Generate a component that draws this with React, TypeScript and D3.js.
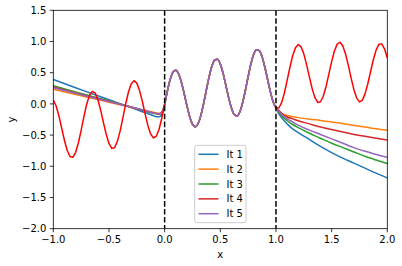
import React, { useEffect } from 'react';
import * as d3 from 'd3';

// ---- data ----
const X_DOMAIN = [-1, 2];
const Y_DOMAIN = [-2, 1.5];
const X_TICKS = [-1, -0.5, 0, 0.5, 1, 1.5, 2];
const Y_TICKS = [-2, -1.5, -1, -0.5, 0, 0.5, 1, 1.5];
const BOUNDARIES = [0, 1];

// reference solution sampled every 0.025 from x = -1 to x = 2
const SOLUTION_X0 = -1;
const SOLUTION_STEP = 0.025;
const SOLUTION_Y = [
  0.061, -0.030, -0.189, -0.386, -0.583, -0.746, -0.843, -0.856,
  -0.780, -0.627, -0.424, -0.204, -0.006, 0.138, 0.201, 0.177,
  0.070, -0.097, -0.295, -0.486, -0.634, -0.712, -0.703, -0.605,
  -0.437, -0.224, -0.001, 0.191, 0.323, 0.372, 0.333, 0.213,
  0.038, -0.163, -0.349, -0.485, -0.546, -0.518, -0.406, -0.226,
  -0.010,
  0.210, 0.393, 0.510, 0.541, 0.484, 0.351, 0.169,
  -0.028, -0.205, -0.325, -0.366, -0.318, -0.188, 0.004, 0.225,
  0.437, 0.606, 0.704, 0.714, 0.637, 0.489, 0.298, 0.101,
  -0.065, -0.171, -0.194, -0.129, 0.016, 0.215, 0.436, 0.641,
  0.795, 0.869, 0.855, 0.756, 0.591, 0.391, 0.192, 0.032,
  -0.061,
  -0.066, 0.017, 0.171, 0.372, 0.584, 0.771, 0.900,
  0.950, 0.915, 0.802, 0.630, 0.433, 0.245, 0.100, 0.024,
  0.034, 0.123, 0.280, 0.476, 0.677, 0.848, 0.958, 0.988,
  0.932, 0.800, 0.617, 0.414, 0.229, 0.093, 0.032, 0.056,
  0.160, 0.323, 0.519, 0.712, 0.866, 0.955, 0.962, 0.883,
  0.734,
];

// iterates outside [0, 1]
const LEFT_X = [-1, -0.8, -0.6, -0.4, -0.2, -0.1, -0.075, -0.05, -0.025, -0.0125];
const RIGHT_X = [1.02, 1.05, 1.1, 1.15, 1.2, 1.3, 1.4, 1.5, 1.6, 1.7, 1.8, 1.9, 2.0];

const IT1_LEFT = [0.39, 0.26, 0.13, 0.005, -0.125, -0.19, -0.205, -0.205, -0.17, -0.11];
const IT2_LEFT = [0.235, 0.15, 0.07, -0.015, -0.095, -0.135, -0.145, -0.15, -0.13, -0.085];
const IT3_LEFT = [0.29, 0.19, 0.095, 0.0, -0.1, -0.15, -0.16, -0.165, -0.14, -0.09];
const IT4_LEFT = [0.27, 0.175, 0.085, -0.005, -0.1, -0.145, -0.155, -0.16, -0.135, -0.09];
const IT5_LEFT = [0.26, 0.17, 0.08, -0.005, -0.095, -0.145, -0.155, -0.16, -0.135, -0.09];

const IT1_RIGHT = [-0.14, -0.22, -0.32, -0.40, -0.46, -0.57, -0.68, -0.78, -0.87, -0.95, -1.03, -1.11, -1.185];
const IT2_RIGHT = [-0.10, -0.15, -0.185, -0.205, -0.22, -0.245, -0.265, -0.29, -0.315, -0.345, -0.37, -0.40, -0.424];
const IT3_RIGHT = [-0.12, -0.19, -0.27, -0.33, -0.38, -0.47, -0.55, -0.63, -0.70, -0.77, -0.84, -0.90, -0.956];
const IT4_RIGHT = [-0.10, -0.15, -0.21, -0.24, -0.27, -0.32, -0.37, -0.41, -0.45, -0.49, -0.52, -0.55, -0.578];
const IT5_RIGHT = [-0.11, -0.17, -0.24, -0.29, -0.34, -0.42, -0.49, -0.56, -0.63, -0.70, -0.76, -0.81, -0.855];

const SERIES_NAMES = ['It 1', 'It 2', 'It 3', 'It 4', 'It 5'];
const SERIES_LEFT = [IT1_LEFT, IT2_LEFT, IT3_LEFT, IT4_LEFT, IT5_LEFT];
const SERIES_RIGHT = [IT1_RIGHT, IT2_RIGHT, IT3_RIGHT, IT4_RIGHT, IT5_RIGHT];
const COLORS = ['#1f77b4', '#ff7f0e', '#2ca02c', '#d62728', '#9467bd'];

// ---- layout ----
const W = 402;
const H = 266;
const PL = 53.3, PR = 387.3, PT = 10.3, PB = 228.7;
const FONT = 'DejaVu Sans, sans-serif';

type Pt = [number, number];

export default function App() {
  useEffect(() => {
    document.body.style.margin = '0';
  }, []);

  const x = d3.scaleLinear().domain(X_DOMAIN).range([PL, PR]);
  const y = d3.scaleLinear().domain(Y_DOMAIN).range([PB, PT]);

  const solPts: Pt[] = SOLUTION_Y.map((v, i) => [SOLUTION_X0 + i * SOLUTION_STEP, v]);
  const idxAt = (xv: number) => Math.round((xv - SOLUTION_X0) / SOLUTION_STEP);
  const i0 = idxAt(BOUNDARIES[0]);
  const i1 = idxAt(BOUNDARIES[1]);
  const solLeft = solPts.slice(0, i0 + 1);
  const solMid = solPts.slice(i0, i1 + 1);
  const solRight = solPts.slice(i1);

  const lineLinear = d3.line<Pt>().x(d => x(d[0])).y(d => y(d[1]));
  const lineSmooth = d3.line<Pt>().x(d => x(d[0])).y(d => y(d[1])).curve(d3.curveMonotoneX);

  const iterPaths = SERIES_NAMES.map((_, s) => {
    const left: Pt[] = LEFT_X.map((xv, i) => [xv, SERIES_LEFT[s][i]]);
    const right: Pt[] = RIGHT_X.map((xv, i) => [xv, SERIES_RIGHT[s][i]]);
    return lineSmooth([...left, ...solMid, ...right]) || '';
  });

  const fmt = (v: number) => d3.format('.1f')(v).replace('-', '\u2212');

  const legX = 194.7, legY = 145.3, legW = 51.3, legH = 77.4;
  const legRow0 = 154.3, legStep = 14.85;

  return (
    <svg width={W} height={H} style={{ position: 'absolute', left: 0, top: 0, background: '#fff' }}
      fontFamily={FONT}>
      <rect x={0} y={0} width={W} height={H} fill="#fff" />
      <defs>
        <clipPath id="plotclip">
          <rect x={PL} y={PT} width={PR - PL} height={PB - PT} />
        </clipPath>
      </defs>
      <g clipPath="url(#plotclip)">
        {iterPaths.map((d, s) => (
          <path key={s} d={d} fill="none" stroke={COLORS[s]} strokeWidth={1.5}
            strokeLinejoin="round" strokeLinecap="square" />
        ))}
        <path d={lineLinear(solLeft) || ''} fill="none" stroke="#ff0000" strokeWidth={1.5} strokeLinejoin="round" />
        <path d={lineLinear(solRight) || ''} fill="none" stroke="#ff0000" strokeWidth={1.5} strokeLinejoin="round" />
        {BOUNDARIES.map(b => (
          <line key={b} x1={x(b)} x2={x(b)} y1={PT} y2={PB} stroke="#000" strokeWidth={1.5}
            strokeDasharray="5.55,2.4" />
        ))}
      </g>
      {/* spines */}
      <rect x={PL} y={PT} width={PR - PL} height={PB - PT} fill="none" stroke="#000" strokeWidth={0.8} />
      {/* x ticks */}
      {X_TICKS.map(t => (
        <g key={'x' + t}>
          <line x1={x(t)} x2={x(t)} y1={PB} y2={PB + 3.5} stroke="#000" strokeWidth={0.8} />
          <text x={x(t)} y={PB + 14.6} fontSize={10} textAnchor="middle" fill="#000">{fmt(t)}</text>
        </g>
      ))}
      {/* y ticks */}
      {Y_TICKS.map(t => (
        <g key={'y' + t}>
          <line x1={PL - 3.5} x2={PL} y1={y(t)} y2={y(t)} stroke="#000" strokeWidth={0.8} />
          <text x={PL - 7} y={y(t) + 3.6} fontSize={10} textAnchor="end" fill="#000">{fmt(t)}</text>
        </g>
      ))}
      <text x={(PL + PR) / 2} y={258} fontSize={10} textAnchor="middle" fill="#000">x</text>
      <text transform={`translate(15, ${(PT + PB) / 2}) rotate(-90)`} fontSize={10} textAnchor="middle" fill="#000">y</text>
      {/* legend */}
      <rect x={legX} y={legY} width={legW} height={legH} rx={2} ry={2}
        fill="#fff" fillOpacity={0.8} stroke="#cccccc" strokeWidth={1} />
      {SERIES_NAMES.map((name, s) => {
        const cy = legRow0 + s * legStep;
        return (
          <g key={name}>
            <line x1={198.5} x2={218.5} y1={cy} y2={cy} stroke={COLORS[s]} strokeWidth={1.5} />
            <text x={226.5} y={cy + 3.6} fontSize={10} fill="#000">{name}</text>
          </g>
        );
      })}
    </svg>
  );
}
